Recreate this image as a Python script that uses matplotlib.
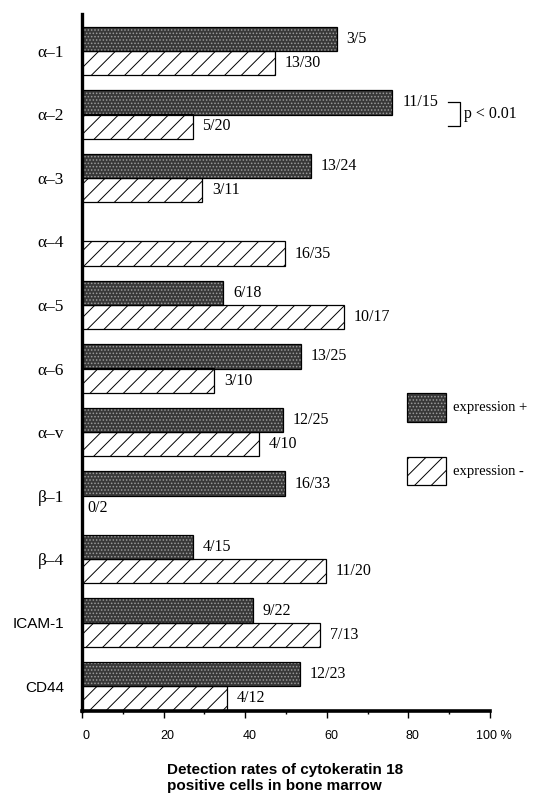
import numpy as np
import matplotlib
matplotlib.use("Agg")
import matplotlib.pyplot as plt
from matplotlib.patches import Rectangle
from matplotlib.ticker import MultipleLocator
import matplotlib.transforms as mtrans

plt.rcParams['hatch.linewidth'] = 0.7

# ---------------- data ----------------
categories = ['α–1', 'α–2', 'α–3', 'α–4', 'α–5', 'α–6', 'α–v', 'β–1', 'β–4', 'ICAM-1', 'CD44']
expr_pos = [62.4, 76.1, 56.2, np.nan, 34.6, 53.6, 49.3, 49.7, 27.1, 41.8, 53.4]
expr_neg = [47.2, 27.1, 29.5, 49.7, 64.1, 32.4, 43.3, 0.0, 59.7, 58.3, 35.6]
pos_labels = ['3/5', '11/15', '13/24', '', '6/18', '13/25', '12/25', '16/33', '4/15', '9/22', '12/23']
neg_labels = ['13/30', '5/20', '3/11', '16/35', '10/17', '3/10', '4/10', '0/2', '11/20', '7/13', '4/12']
xticks = [0, 20, 40, 60, 80, 100]
xtick_labels = ['0', '20', '40', '60', '80', '100 %']

W, H = 536, 796
fig = plt.figure(figsize=(W / 100, H / 100), dpi=100)
L, R, T, B = 82, 490, 14, 711
ax = fig.add_axes([L / W, 1 - B / H, (R - L) / W, (B - T) / H])

y = np.arange(len(categories))
bh = 0.385
off = 0.19

serif = ['Liberation Serif', 'DejaVu Serif']
sans = ['Liberation Sans', 'DejaVu Sans']

# dark stippled bars
pos_arr = np.array(expr_pos, dtype=float)
mask = ~np.isnan(pos_arr)
ax.barh(y[mask] - off, pos_arr[mask], height=bh, left=0, color='#383838',
        edgecolor='#9a9a9a', hatch='.....', linewidth=0, zorder=2)
ax.barh(y[mask] - off, pos_arr[mask], height=bh, left=0, fill=False,
        edgecolor='black', linewidth=0.9, zorder=3)
# hatched bars
ax.barh(y + off, expr_neg, height=bh, left=0, color='white',
        edgecolor='black', hatch='//', linewidth=0.9, zorder=2)

# value labels
for yi, v, lab in zip(y, expr_pos, pos_labels):
    if lab and not np.isnan(v):
        ax.annotate(lab, (v, yi - off), xytext=(7, 0), textcoords='offset points',
                    ha='left', va='center', fontsize=11.5, family=serif)
for yi, v, lab in zip(y, expr_neg, neg_labels):
    ax.annotate(lab, (v, yi + off), xytext=(7 if v > 0 else 4, 0), textcoords='offset points',
                ha='left', va='center', fontsize=11.5, family=serif)

ax.set_xlim(0, 100)
ax.set_ylim(10 + 0.39, -0.58)

for s in ['top', 'right']:
    ax.spines[s].set_visible(False)
ax.spines['left'].set_linewidth(2.4)
ax.spines['bottom'].set_linewidth(2.6)

ax.set_xticks(xticks)
ax.set_xticklabels(xtick_labels, family=sans, fontsize=9)
ax.xaxis.set_minor_locator(MultipleLocator(10))
ax.tick_params(axis='x', which='major', length=5, width=1.0, pad=9, direction='out')
ax.tick_params(axis='x', which='minor', length=2.5, width=1.0, direction='out')
shift = mtrans.ScaledTranslation(3 / 72, 0, fig.dpi_scale_trans)
for lbl in ax.get_xticklabels():
    lbl.set_transform(lbl.get_transform() + shift)

ax.set_yticks(y)
ax.set_yticklabels(categories, fontsize=12.5)
ax.tick_params(axis='y', length=0, pad=13)
for lbl, c in zip(ax.get_yticklabels(), categories):
    if c.startswith('α') or c.startswith('β'):
        lbl.set_family(serif)
    else:
        lbl.set_family(sans)
        lbl.set_fontsize(11)

# significance bracket
ax.plot([89.6, 92.6, 92.6, 89.6], [1 - off, 1 - off, 1 + off, 1 + off],
        color='black', linewidth=0.9, clip_on=False)
ax.text(93.6, 1, 'p < 0.01', ha='left', va='center', fontsize=11.5, family=serif)

# legend
def px(x0, y0, x1, y1):
    return (x0 / W, 1 - y1 / H), (x1 - x0) / W, (y1 - y0) / H

xy, w, h = px(407, 393, 446, 422)
fig.add_artist(Rectangle(xy, w, h, transform=fig.transFigure, facecolor='#383838',
                         edgecolor='#9a9a9a', hatch='.....', linewidth=0))
fig.add_artist(Rectangle(xy, w, h, transform=fig.transFigure, fill=False,
                         edgecolor='black', linewidth=0.9))
xy, w, h = px(407, 457, 446, 485)
fig.add_artist(Rectangle(xy, w, h, transform=fig.transFigure, facecolor='white',
                         edgecolor='black', hatch='//', linewidth=0.9))
fig.text(453 / W, 1 - 407 / H, 'expression +', ha='left', va='center', fontsize=10.5, family=serif)
fig.text(453 / W, 1 - 471 / H, 'expression -', ha='left', va='center', fontsize=10.5, family=serif)

fig.text(167 / W, 1 - 763 / H, 'Detection rates of cytokeratin 18\npositive cells in bone marrow',
         ha='left', va='top', fontsize=11, fontweight='bold', family=sans, linespacing=1.2)

fig.savefig('out.png', dpi=100)
